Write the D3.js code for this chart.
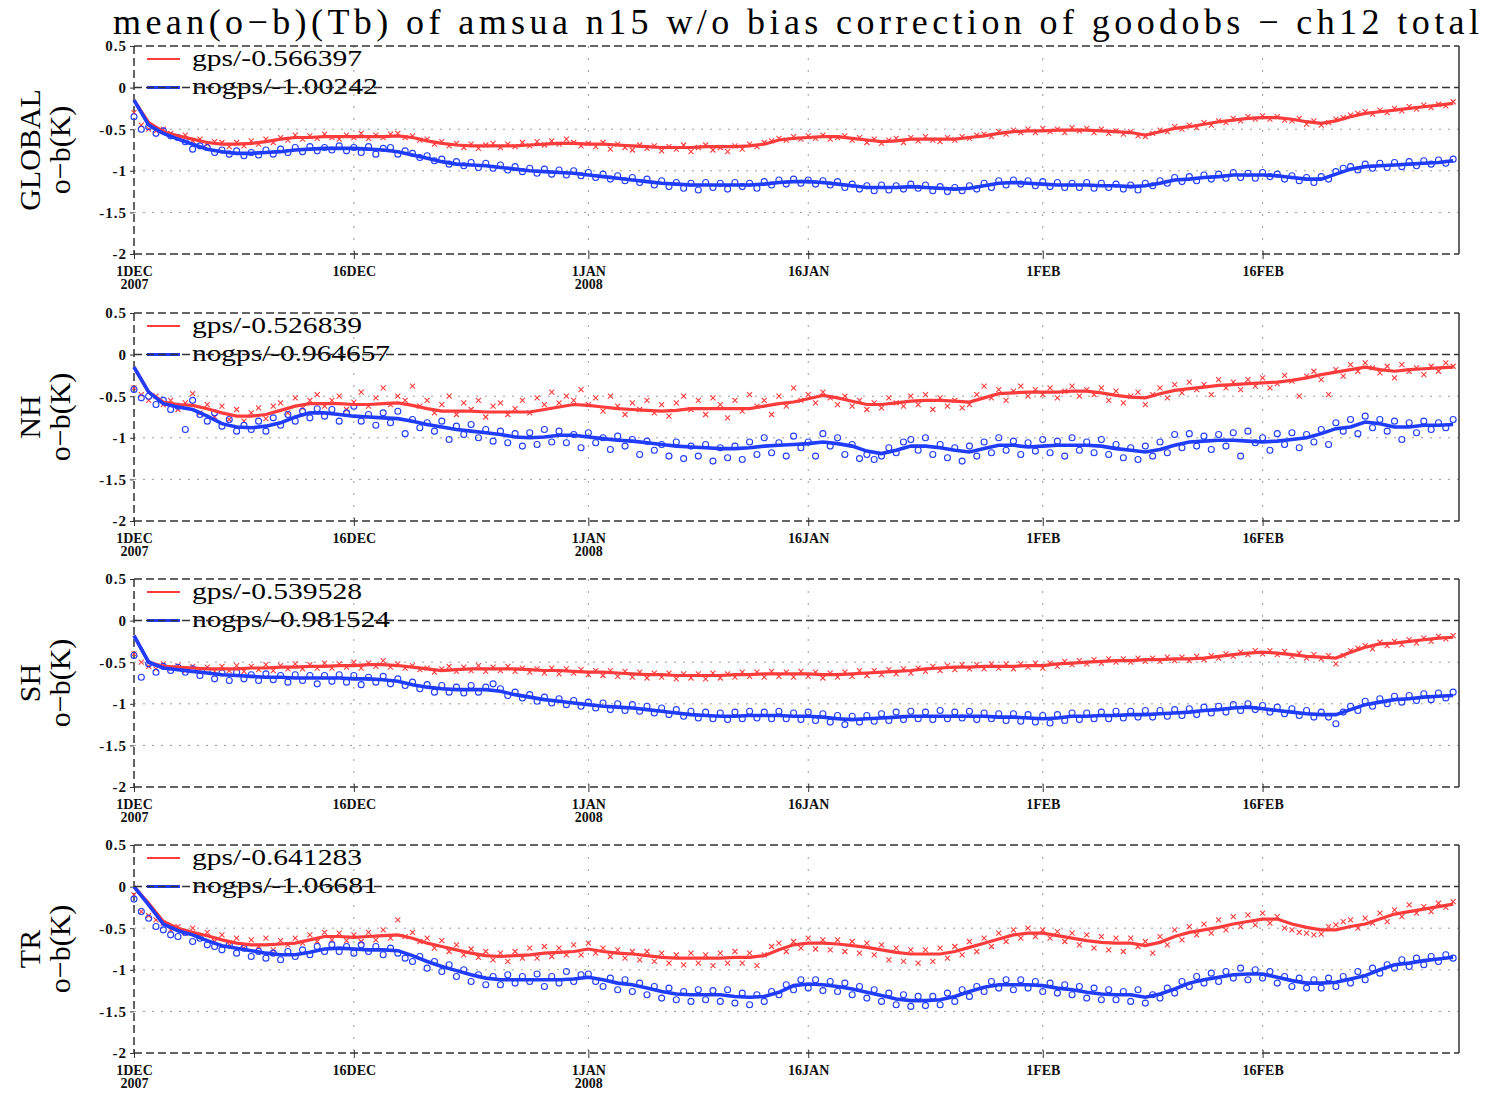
<!DOCTYPE html>
<html>
<head>
<meta charset="utf-8">
<title>mean(o-b)(Tb) of amsua n15 - ch12</title>
<script src="https://cdn.jsdelivr.net/npm/d3@7/dist/d3.min.js"></script>
<style>
  body { margin: 0; background: #ffffff; }
  svg { display: block; }
</style>
</head>
<body>
<script>

// ---- data ----
const regions = ["GLOBAL", "NH", "SH", "TR"];
const gpsMeans = ["-0.566397", "-0.526839", "-0.539528", "-0.641283"];
const nogpsMeans = ["-1.00242", "-0.964657", "-0.981524", "-1.06681"];

const yTicks = [0.5, 0, -0.5, -1, -1.5, -2];
const xTickDays = [0, 15, 31, 46, 62, 77];
const xTickLabels = ["1DEC", "16DEC", "1JAN", "16JAN", "1FEB", "16FEB"];
const xTickYears = ["2007", "", "2008", "", "", ""];

// running mean lines, one value per day from 1 Dec 2007
const gpsLineGlobal = [-0.15,-0.42,-0.53,-0.58,-0.62,-0.66,-0.68,-0.68,-0.67,-0.65,-0.62,-0.60,-0.60,-0.59,-0.59,-0.59,-0.59,-0.59,-0.58,-0.60,-0.64,-0.67,-0.69,-0.70,-0.70,-0.70,-0.70,-0.69,-0.68,-0.67,-0.67,-0.68,-0.68,-0.69,-0.70,-0.71,-0.72,-0.72,-0.72,-0.71,-0.71,-0.71,-0.70,-0.68,-0.63,-0.61,-0.60,-0.59,-0.59,-0.61,-0.63,-0.65,-0.64,-0.62,-0.62,-0.62,-0.62,-0.60,-0.58,-0.55,-0.53,-0.52,-0.52,-0.51,-0.51,-0.51,-0.52,-0.53,-0.54,-0.57,-0.53,-0.49,-0.47,-0.44,-0.41,-0.39,-0.37,-0.36,-0.36,-0.38,-0.41,-0.43,-0.40,-0.35,-0.31,-0.29,-0.27,-0.25,-0.23,-0.21,-0.19];
const nogpsLineGlobal = [-0.15,-0.45,-0.55,-0.62,-0.68,-0.74,-0.77,-0.79,-0.79,-0.78,-0.77,-0.75,-0.74,-0.73,-0.73,-0.73,-0.74,-0.75,-0.77,-0.81,-0.85,-0.89,-0.92,-0.93,-0.94,-0.96,-0.98,-1.00,-1.01,-1.02,-1.03,-1.05,-1.07,-1.09,-1.11,-1.13,-1.15,-1.16,-1.17,-1.17,-1.17,-1.17,-1.17,-1.16,-1.14,-1.13,-1.13,-1.14,-1.16,-1.18,-1.20,-1.20,-1.20,-1.19,-1.20,-1.21,-1.22,-1.21,-1.18,-1.15,-1.14,-1.15,-1.16,-1.17,-1.17,-1.17,-1.18,-1.18,-1.19,-1.18,-1.15,-1.11,-1.10,-1.08,-1.07,-1.05,-1.05,-1.05,-1.06,-1.08,-1.10,-1.10,-1.04,-0.98,-0.95,-0.94,-0.93,-0.92,-0.91,-0.90,-0.88];
const gpsLineNH = [-0.15,-0.45,-0.57,-0.60,-0.61,-0.65,-0.70,-0.74,-0.74,-0.72,-0.67,-0.62,-0.59,-0.59,-0.59,-0.60,-0.60,-0.59,-0.58,-0.61,-0.65,-0.68,-0.68,-0.68,-0.69,-0.69,-0.69,-0.69,-0.66,-0.63,-0.60,-0.61,-0.63,-0.65,-0.66,-0.67,-0.68,-0.67,-0.65,-0.65,-0.65,-0.65,-0.65,-0.62,-0.59,-0.57,-0.53,-0.49,-0.52,-0.56,-0.60,-0.60,-0.58,-0.56,-0.55,-0.55,-0.56,-0.57,-0.52,-0.47,-0.46,-0.45,-0.45,-0.45,-0.44,-0.44,-0.46,-0.49,-0.51,-0.52,-0.47,-0.43,-0.41,-0.39,-0.37,-0.36,-0.35,-0.34,-0.33,-0.31,-0.28,-0.24,-0.21,-0.18,-0.15,-0.18,-0.20,-0.18,-0.17,-0.16,-0.15];
const nogpsLineNH = [-0.15,-0.45,-0.59,-0.63,-0.66,-0.74,-0.83,-0.87,-0.88,-0.86,-0.82,-0.75,-0.70,-0.70,-0.72,-0.74,-0.75,-0.76,-0.77,-0.80,-0.84,-0.87,-0.90,-0.92,-0.94,-0.96,-0.99,-1.00,-0.99,-0.97,-0.97,-0.99,-1.01,-1.03,-1.04,-1.06,-1.08,-1.10,-1.11,-1.12,-1.13,-1.13,-1.12,-1.10,-1.09,-1.08,-1.07,-1.05,-1.07,-1.10,-1.16,-1.19,-1.15,-1.10,-1.10,-1.12,-1.15,-1.17,-1.13,-1.09,-1.09,-1.11,-1.10,-1.09,-1.09,-1.09,-1.10,-1.13,-1.15,-1.17,-1.14,-1.09,-1.05,-1.04,-1.03,-1.03,-1.04,-1.05,-1.04,-1.02,-1.00,-0.95,-0.89,-0.87,-0.81,-0.83,-0.87,-0.87,-0.85,-0.85,-0.84];
const gpsLineSH = [-0.18,-0.50,-0.55,-0.56,-0.57,-0.58,-0.58,-0.58,-0.57,-0.57,-0.56,-0.56,-0.55,-0.55,-0.54,-0.54,-0.53,-0.53,-0.54,-0.56,-0.58,-0.60,-0.59,-0.58,-0.58,-0.58,-0.58,-0.59,-0.60,-0.60,-0.61,-0.62,-0.62,-0.63,-0.64,-0.65,-0.65,-0.66,-0.66,-0.66,-0.66,-0.65,-0.65,-0.64,-0.64,-0.64,-0.64,-0.65,-0.65,-0.64,-0.63,-0.62,-0.61,-0.60,-0.58,-0.57,-0.56,-0.56,-0.55,-0.55,-0.55,-0.54,-0.54,-0.52,-0.51,-0.50,-0.49,-0.48,-0.48,-0.47,-0.47,-0.46,-0.46,-0.45,-0.43,-0.41,-0.39,-0.38,-0.39,-0.41,-0.43,-0.44,-0.45,-0.38,-0.32,-0.28,-0.27,-0.25,-0.23,-0.21,-0.20];
const nogpsLineSH = [-0.18,-0.50,-0.57,-0.59,-0.61,-0.63,-0.65,-0.66,-0.67,-0.68,-0.68,-0.69,-0.69,-0.69,-0.69,-0.70,-0.70,-0.71,-0.73,-0.77,-0.80,-0.82,-0.83,-0.83,-0.83,-0.85,-0.89,-0.92,-0.95,-0.97,-0.99,-1.01,-1.03,-1.04,-1.05,-1.07,-1.09,-1.11,-1.13,-1.14,-1.15,-1.15,-1.14,-1.14,-1.14,-1.15,-1.15,-1.16,-1.18,-1.19,-1.18,-1.17,-1.16,-1.15,-1.15,-1.15,-1.15,-1.15,-1.15,-1.16,-1.16,-1.17,-1.18,-1.17,-1.15,-1.15,-1.14,-1.14,-1.13,-1.13,-1.12,-1.11,-1.10,-1.08,-1.07,-1.05,-1.04,-1.06,-1.08,-1.10,-1.12,-1.13,-1.13,-1.07,-1.01,-0.98,-0.95,-0.94,-0.92,-0.91,-0.90];
const gpsLineTR = [0.00,-0.20,-0.42,-0.50,-0.55,-0.59,-0.64,-0.68,-0.70,-0.70,-0.69,-0.68,-0.64,-0.60,-0.60,-0.61,-0.60,-0.59,-0.58,-0.62,-0.68,-0.72,-0.76,-0.80,-0.83,-0.84,-0.83,-0.82,-0.80,-0.79,-0.78,-0.75,-0.78,-0.80,-0.81,-0.83,-0.85,-0.86,-0.86,-0.86,-0.86,-0.85,-0.85,-0.83,-0.76,-0.70,-0.68,-0.68,-0.69,-0.71,-0.73,-0.76,-0.79,-0.81,-0.81,-0.81,-0.78,-0.73,-0.68,-0.63,-0.58,-0.56,-0.56,-0.59,-0.62,-0.65,-0.67,-0.68,-0.68,-0.71,-0.67,-0.60,-0.55,-0.52,-0.49,-0.45,-0.42,-0.39,-0.39,-0.45,-0.49,-0.52,-0.52,-0.48,-0.45,-0.39,-0.33,-0.30,-0.27,-0.24,-0.21];
const nogpsLineTR = [0.00,-0.22,-0.45,-0.53,-0.58,-0.65,-0.71,-0.74,-0.77,-0.80,-0.82,-0.82,-0.79,-0.75,-0.74,-0.75,-0.76,-0.76,-0.77,-0.83,-0.90,-0.96,-1.01,-1.06,-1.10,-1.12,-1.12,-1.12,-1.12,-1.12,-1.11,-1.09,-1.12,-1.16,-1.18,-1.22,-1.26,-1.29,-1.30,-1.30,-1.30,-1.32,-1.33,-1.32,-1.27,-1.19,-1.17,-1.18,-1.20,-1.23,-1.27,-1.31,-1.35,-1.37,-1.37,-1.36,-1.32,-1.26,-1.21,-1.18,-1.18,-1.18,-1.19,-1.22,-1.24,-1.27,-1.29,-1.30,-1.30,-1.33,-1.29,-1.23,-1.16,-1.12,-1.09,-1.06,-1.05,-1.05,-1.09,-1.13,-1.16,-1.16,-1.15,-1.11,-1.07,-1.00,-0.94,-0.92,-0.89,-0.87,-0.85];

// single analysis values, one every half day
const gpsDotsGlobal = [-0.30,-0.45,-0.50,-0.52,-0.50,-0.55,-0.60,-0.57,-0.64,-0.62,
  -0.68,-0.65,-0.66,-0.71,-0.66,-0.70,-0.64,-0.68,-0.62,-0.66,
  -0.60,-0.63,-0.57,-0.62,-0.58,-0.61,-0.56,-0.60,-0.62,-0.57,
  -0.60,-0.55,-0.61,-0.57,-0.60,-0.56,-0.55,-0.60,-0.58,-0.63,
  -0.62,-0.68,-0.65,-0.70,-0.67,-0.72,-0.68,-0.73,-0.69,-0.67,
  -0.72,-0.68,-0.71,-0.66,-0.70,-0.65,-0.69,-0.64,-0.68,-0.62,
  -0.66,-0.70,-0.67,-0.71,-0.66,-0.74,-0.68,-0.72,-0.75,-0.69,
  -0.73,-0.70,-0.76,-0.71,-0.74,-0.69,-0.77,-0.72,-0.69,-0.75,
  -0.72,-0.77,-0.70,-0.74,-0.68,-0.71,-0.66,-0.64,-0.61,-0.63,
  -0.59,-0.62,-0.58,-0.61,-0.57,-0.62,-0.60,-0.58,-0.63,-0.60,
  -0.66,-0.62,-0.67,-0.63,-0.61,-0.66,-0.60,-0.64,-0.59,-0.63,
  -0.65,-0.60,-0.63,-0.59,-0.61,-0.57,-0.56,-0.59,-0.53,-0.56,
  -0.51,-0.54,-0.50,-0.54,-0.49,-0.53,-0.50,-0.54,-0.48,-0.52,
  -0.49,-0.54,-0.50,-0.55,-0.52,-0.56,-0.53,-0.58,-0.59,-0.55,
  -0.51,-0.53,-0.47,-0.50,-0.45,-0.48,-0.42,-0.45,-0.40,-0.42,
  -0.37,-0.40,-0.35,-0.38,-0.34,-0.38,-0.35,-0.39,-0.40,-0.37,
  -0.44,-0.40,-0.45,-0.42,-0.38,-0.36,-0.33,-0.31,-0.29,-0.32,
  -0.27,-0.30,-0.25,-0.28,-0.23,-0.26,-0.21,-0.24,-0.20,-0.22,
  -0.17];
const nogpsDotsGlobal = [-0.35,-0.50,-0.47,-0.55,-0.52,-0.58,-0.60,-0.65,-0.74,-0.70,
  -0.72,-0.78,-0.75,-0.80,-0.76,-0.82,-0.78,-0.81,-0.75,-0.80,
  -0.74,-0.78,-0.72,-0.77,-0.71,-0.76,-0.72,-0.75,-0.70,-0.76,
  -0.72,-0.78,-0.71,-0.80,-0.73,-0.72,-0.80,-0.76,-0.79,-0.84,
  -0.82,-0.88,-0.86,-0.92,-0.89,-0.94,-0.90,-0.96,-0.91,-0.97,
  -0.93,-0.99,-0.95,-1.01,-0.97,-1.03,-0.98,-1.04,-0.99,-1.05,
  -1.00,-1.06,-1.02,-1.08,-1.04,-1.10,-1.06,-1.12,-1.08,-1.14,
  -1.10,-1.17,-1.12,-1.19,-1.14,-1.21,-1.15,-1.23,-1.14,-1.20,
  -1.15,-1.22,-1.14,-1.19,-1.15,-1.21,-1.13,-1.17,-1.11,-1.16,
  -1.10,-1.15,-1.11,-1.16,-1.12,-1.17,-1.13,-1.20,-1.16,-1.22,
  -1.18,-1.24,-1.17,-1.23,-1.18,-1.22,-1.16,-1.21,-1.17,-1.24,
  -1.19,-1.25,-1.20,-1.24,-1.18,-1.22,-1.15,-1.20,-1.12,-1.17,
  -1.11,-1.16,-1.12,-1.18,-1.13,-1.19,-1.14,-1.20,-1.15,-1.20,
  -1.14,-1.21,-1.15,-1.20,-1.16,-1.22,-1.17,-1.23,-1.15,-1.18,
  -1.12,-1.15,-1.08,-1.13,-1.07,-1.12,-1.05,-1.10,-1.04,-1.09,
  -1.02,-1.08,-1.03,-1.09,-1.02,-1.07,-1.04,-1.10,-1.06,-1.12,
  -1.08,-1.14,-1.07,-1.10,-1.01,-0.97,-0.95,-0.99,-0.92,-0.97,
  -0.91,-0.96,-0.90,-0.95,-0.89,-0.94,-0.88,-0.92,-0.87,-0.91,
  -0.86];
const gpsDotsNH = [-0.40,-0.48,-0.55,-0.50,-0.60,-0.55,-0.66,-0.58,-0.47,-0.70,
  -0.60,-0.75,-0.62,-0.78,-0.66,-0.80,-0.70,-0.64,-0.77,-0.62,
  -0.58,-0.70,-0.52,-0.64,-0.55,-0.48,-0.62,-0.55,-0.50,-0.66,
  -0.57,-0.45,-0.62,-0.52,-0.40,-0.60,-0.50,-0.55,-0.38,-0.62,
  -0.55,-0.70,-0.60,-0.50,-0.72,-0.58,-0.66,-0.55,-0.75,-0.62,
  -0.58,-0.72,-0.65,-0.55,-0.70,-0.52,-0.60,-0.45,-0.58,-0.50,
  -0.55,-0.42,-0.60,-0.52,-0.68,-0.50,-0.62,-0.72,-0.58,-0.66,
  -0.55,-0.70,-0.60,-0.74,-0.58,-0.50,-0.66,-0.55,-0.72,-0.52,
  -0.60,-0.76,-0.55,-0.68,-0.48,-0.62,-0.55,-0.72,-0.50,-0.62,
  -0.40,-0.55,-0.48,-0.58,-0.45,-0.52,-0.60,-0.50,-0.62,-0.55,
  -0.66,-0.58,-0.64,-0.52,-0.58,-0.62,-0.50,-0.60,-0.48,-0.66,
  -0.52,-0.62,-0.55,-0.64,-0.60,-0.48,-0.38,-0.52,-0.42,-0.55,
  -0.44,-0.38,-0.50,-0.42,-0.48,-0.40,-0.52,-0.44,-0.38,-0.50,
  -0.42,-0.48,-0.40,-0.55,-0.44,-0.58,-0.50,-0.45,-0.60,-0.48,
  -0.40,-0.52,-0.36,-0.46,-0.33,-0.42,-0.36,-0.48,-0.30,-0.40,
  -0.33,-0.42,-0.30,-0.38,-0.28,-0.40,-0.35,-0.25,-0.32,-0.50,
  -0.26,-0.20,-0.30,-0.48,-0.18,-0.26,-0.12,-0.20,-0.10,-0.16,
  -0.22,-0.14,-0.28,-0.12,-0.20,-0.16,-0.24,-0.14,-0.20,-0.10,
  -0.14];
const nogpsDotsNH = [-0.42,-0.52,-0.50,-0.60,-0.55,-0.66,-0.62,-0.90,-0.55,-0.72,
  -0.80,-0.70,-0.86,-0.78,-0.92,-0.85,-0.90,-0.80,-0.92,-0.76,
  -0.85,-0.72,-0.80,-0.68,-0.76,-0.65,-0.74,-0.66,-0.80,-0.70,
  -0.62,-0.80,-0.72,-0.85,-0.70,-0.82,-0.68,-0.95,-0.78,-0.88,
  -0.82,-0.92,-0.80,-1.02,-0.86,-0.96,-0.84,-1.00,-0.90,-1.04,
  -0.92,-1.06,-0.95,-1.10,-0.94,-1.08,-0.90,-1.05,-0.92,-1.06,
  -0.96,-1.12,-0.94,-1.06,-1.00,-1.14,-0.98,-1.10,-1.02,-1.20,
  -1.04,-1.15,-1.08,-1.22,-1.05,-1.25,-1.10,-1.22,-1.08,-1.28,
  -1.12,-1.24,-1.10,-1.26,-1.05,-1.20,-1.00,-1.18,-1.06,-1.22,
  -0.98,-1.12,-1.05,-1.22,-0.95,-1.10,-1.00,-1.20,-1.08,-1.25,
  -1.20,-1.26,-1.22,-1.12,-1.18,-1.05,-1.02,-1.15,-1.00,-1.20,
  -1.08,-1.24,-1.12,-1.28,-1.10,-1.22,-1.05,-1.18,-1.00,-1.15,
  -1.04,-1.20,-1.06,-1.16,-1.02,-1.18,-1.04,-1.22,-1.00,-1.15,
  -1.05,-1.18,-1.02,-1.20,-1.08,-1.24,-1.12,-1.26,-1.10,-1.22,
  -1.05,-1.18,-0.96,-1.12,-0.95,-1.10,-0.98,-1.14,-0.96,-1.10,
  -0.94,-1.22,-0.92,-1.06,-1.00,-1.15,-0.95,-1.08,-0.94,-1.12,
  -0.96,-1.05,-0.90,-1.08,-0.82,-0.92,-0.78,-0.95,-0.74,-0.88,
  -0.78,-0.92,-0.80,-1.02,-0.82,-0.94,-0.80,-0.90,-0.82,-0.88,
  -0.78];
const gpsDotsSH = [-0.40,-0.50,-0.55,-0.58,-0.52,-0.57,-0.54,-0.60,-0.55,-0.59,
  -0.56,-0.61,-0.55,-0.60,-0.54,-0.61,-0.55,-0.59,-0.53,-0.60,
  -0.54,-0.58,-0.52,-0.58,-0.53,-0.57,-0.51,-0.57,-0.52,-0.56,
  -0.50,-0.57,-0.51,-0.55,-0.48,-0.56,-0.52,-0.57,-0.54,-0.59,
  -0.57,-0.62,-0.58,-0.55,-0.61,-0.56,-0.60,-0.54,-0.61,-0.56,
  -0.60,-0.55,-0.61,-0.57,-0.62,-0.58,-0.63,-0.57,-0.64,-0.58,
  -0.63,-0.59,-0.65,-0.60,-0.66,-0.60,-0.67,-0.61,-0.68,-0.62,
  -0.69,-0.63,-0.68,-0.63,-0.70,-0.64,-0.69,-0.64,-0.70,-0.63,
  -0.69,-0.64,-0.68,-0.62,-0.67,-0.62,-0.68,-0.61,-0.67,-0.62,
  -0.68,-0.61,-0.67,-0.62,-0.69,-0.63,-0.68,-0.62,-0.67,-0.60,
  -0.66,-0.60,-0.65,-0.59,-0.64,-0.58,-0.63,-0.57,-0.61,-0.55,
  -0.60,-0.54,-0.59,-0.53,-0.58,-0.53,-0.58,-0.52,-0.57,-0.52,
  -0.58,-0.52,-0.56,-0.51,-0.57,-0.51,-0.55,-0.49,-0.53,-0.48,
  -0.52,-0.47,-0.51,-0.46,-0.50,-0.46,-0.50,-0.45,-0.49,-0.45,
  -0.49,-0.44,-0.48,-0.44,-0.48,-0.43,-0.47,-0.42,-0.45,-0.40,
  -0.43,-0.38,-0.41,-0.36,-0.40,-0.36,-0.41,-0.37,-0.43,-0.39,
  -0.45,-0.41,-0.46,-0.42,-0.52,-0.42,-0.36,-0.33,-0.30,-0.34,
  -0.26,-0.30,-0.25,-0.29,-0.23,-0.27,-0.21,-0.25,-0.19,-0.22,
  -0.18];
const nogpsDotsSH = [-0.42,-0.68,-0.52,-0.62,-0.55,-0.60,-0.56,-0.62,-0.58,-0.66,
  -0.60,-0.70,-0.63,-0.72,-0.62,-0.70,-0.65,-0.72,-0.64,-0.71,
  -0.66,-0.74,-0.65,-0.72,-0.66,-0.76,-0.66,-0.73,-0.65,-0.74,
  -0.66,-0.77,-0.68,-0.74,-0.67,-0.76,-0.70,-0.78,-0.74,-0.82,
  -0.77,-0.86,-0.78,-0.86,-0.80,-0.87,-0.78,-0.86,-0.80,-0.76,
  -0.82,-0.90,-0.86,-0.93,-0.89,-0.97,-0.92,-0.99,-0.94,-1.01,
  -0.96,-1.03,-0.98,-1.05,-0.99,-1.07,-1.00,-1.08,-1.01,-1.09,
  -1.03,-1.11,-1.05,-1.13,-1.07,-1.15,-1.09,-1.17,-1.10,-1.18,
  -1.11,-1.19,-1.10,-1.18,-1.09,-1.17,-1.10,-1.18,-1.09,-1.18,
  -1.11,-1.19,-1.10,-1.20,-1.12,-1.22,-1.14,-1.25,-1.15,-1.22,
  -1.14,-1.21,-1.12,-1.20,-1.10,-1.19,-1.09,-1.18,-1.10,-1.19,
  -1.08,-1.18,-1.10,-1.17,-1.09,-1.19,-1.11,-1.18,-1.12,-1.20,
  -1.12,-1.21,-1.13,-1.22,-1.14,-1.23,-1.13,-1.20,-1.11,-1.19,
  -1.11,-1.18,-1.10,-1.18,-1.09,-1.17,-1.09,-1.16,-1.08,-1.16,
  -1.08,-1.15,-1.07,-1.14,-1.06,-1.13,-1.04,-1.11,-1.03,-1.10,
  -1.01,-1.08,-1.00,-1.07,-1.02,-1.10,-1.04,-1.12,-1.06,-1.14,
  -1.08,-1.16,-1.10,-1.16,-1.24,-1.10,-1.03,-1.08,-0.97,-1.03,
  -0.94,-1.00,-0.91,-0.98,-0.90,-0.96,-0.88,-0.95,-0.87,-0.93,
  -0.86];
const gpsDotsTR = [-0.10,-0.30,-0.35,-0.40,-0.44,-0.52,-0.48,-0.56,-0.50,-0.60,
  -0.55,-0.66,-0.58,-0.70,-0.62,-0.74,-0.64,-0.72,-0.62,-0.76,
  -0.65,-0.70,-0.62,-0.68,-0.58,-0.66,-0.55,-0.64,-0.56,-0.65,
  -0.58,-0.66,-0.55,-0.64,-0.52,-0.62,-0.40,-0.60,-0.55,-0.66,
  -0.62,-0.74,-0.65,-0.78,-0.70,-0.82,-0.75,-0.85,-0.78,-0.88,
  -0.80,-0.90,-0.78,-0.86,-0.74,-0.86,-0.72,-0.84,-0.74,-0.82,
  -0.70,-0.82,-0.68,-0.80,-0.74,-0.84,-0.76,-0.86,-0.78,-0.88,
  -0.78,-0.90,-0.80,-0.92,-0.82,-0.94,-0.80,-0.92,-0.82,-0.95,
  -0.80,-0.92,-0.78,-0.92,-0.80,-0.95,-0.82,-0.72,-0.68,-0.78,
  -0.66,-0.74,-0.62,-0.75,-0.64,-0.76,-0.64,-0.78,-0.66,-0.80,
  -0.68,-0.82,-0.70,-0.88,-0.74,-0.90,-0.76,-0.92,-0.76,-0.90,
  -0.74,-0.86,-0.72,-0.82,-0.66,-0.78,-0.62,-0.72,-0.56,-0.66,
  -0.52,-0.62,-0.50,-0.60,-0.52,-0.62,-0.54,-0.66,-0.56,-0.70,
  -0.58,-0.74,-0.60,-0.76,-0.62,-0.78,-0.62,-0.72,-0.66,-0.80,
  -0.60,-0.70,-0.52,-0.64,-0.48,-0.58,-0.45,-0.56,-0.40,-0.52,
  -0.36,-0.48,-0.34,-0.46,-0.32,-0.44,-0.36,-0.50,-0.52,-0.55,
  -0.56,-0.58,-0.57,-0.48,-0.46,-0.42,-0.40,-0.50,-0.38,-0.44,
  -0.32,-0.42,-0.28,-0.36,-0.22,-0.32,-0.24,-0.30,-0.20,-0.25,
  -0.18];
const nogpsDotsTR = [-0.15,-0.30,-0.38,-0.48,-0.52,-0.58,-0.60,-0.55,-0.66,-0.62,
  -0.70,-0.72,-0.76,-0.70,-0.80,-0.74,-0.84,-0.78,-0.86,-0.80,
  -0.88,-0.78,-0.84,-0.76,-0.82,-0.72,-0.78,-0.70,-0.78,-0.72,
  -0.80,-0.70,-0.78,-0.72,-0.82,-0.74,-0.80,-0.86,-0.90,-0.84,
  -0.98,-0.90,-1.02,-0.94,-1.08,-1.00,-1.14,-1.06,-1.18,-1.08,
  -1.18,-1.06,-1.16,-1.08,-1.14,-1.05,-1.20,-1.08,-1.16,-1.02,
  -1.14,-1.06,-1.05,-1.14,-1.20,-1.10,-1.24,-1.12,-1.26,-1.16,
  -1.30,-1.20,-1.34,-1.22,-1.36,-1.26,-1.38,-1.24,-1.36,-1.25,
  -1.38,-1.24,-1.40,-1.28,-1.42,-1.30,-1.38,-1.26,-1.30,-1.18,
  -1.24,-1.12,-1.22,-1.12,-1.25,-1.14,-1.26,-1.16,-1.30,-1.20,
  -1.34,-1.24,-1.38,-1.28,-1.42,-1.30,-1.44,-1.32,-1.43,-1.32,
  -1.42,-1.28,-1.38,-1.24,-1.32,-1.20,-1.26,-1.14,-1.22,-1.12,
  -1.24,-1.12,-1.22,-1.14,-1.26,-1.16,-1.28,-1.18,-1.30,-1.20,
  -1.34,-1.22,-1.36,-1.24,-1.36,-1.26,-1.38,-1.24,-1.40,-1.30,
  -1.34,-1.22,-1.28,-1.14,-1.20,-1.08,-1.16,-1.04,-1.14,-1.02,
  -1.10,-0.98,-1.12,-1.00,-1.10,-1.02,-1.16,-1.08,-1.20,-1.10,
  -1.22,-1.12,-1.22,-1.10,-1.20,-1.08,-1.16,-1.02,-1.12,-0.98,
  -1.04,-0.94,-0.98,-0.88,-0.96,-0.86,-0.94,-0.84,-0.90,-0.82,
  -0.86];

// table used for drawing
const panels = [
  { name: regions[0], gpsMean: gpsMeans[0], nogpsMean: nogpsMeans[0], gpsLine: gpsLineGlobal, nogpsLine: nogpsLineGlobal, gpsDots: gpsDotsGlobal, nogpsDots: nogpsDotsGlobal },
  { name: regions[1], gpsMean: gpsMeans[1], nogpsMean: nogpsMeans[1], gpsLine: gpsLineNH, nogpsLine: nogpsLineNH, gpsDots: gpsDotsNH, nogpsDots: nogpsDotsNH },
  { name: regions[2], gpsMean: gpsMeans[2], nogpsMean: nogpsMeans[2], gpsLine: gpsLineSH, nogpsLine: nogpsLineSH, gpsDots: gpsDotsSH, nogpsDots: nogpsDotsSH },
  { name: regions[3], gpsMean: gpsMeans[3], nogpsMean: nogpsMeans[3], gpsLine: gpsLineTR, nogpsLine: nogpsLineTR, gpsDots: gpsDotsTR, nogpsDots: nogpsDotsTR }
];

// ---- layout ----
const w = 1488;
const h = 1093;
const left = 134;
const right = 1459;
const panelTops = [46, 313, 579, 845];
const panelH = 208;

const red = "#ff3b3b";
const blue = "#1f3cff";
const serif = "'Liberation Serif', 'DejaVu Serif', serif";

const svg = d3.select("body")
  .append("svg")
  .attr("width", w)
  .attr("height", h);

svg.append("rect").attr("width", w).attr("height", h).attr("fill", "#fff");

// title
svg.append("text")
  .attr("x", 113)
  .attr("y", 34)
  .attr("font-family", serif)
  .attr("font-size", 36)
  .attr("textLength", 1366)
  .attr("lengthAdjust", "spacing")
  .text("mean(o\u2212b)(Tb) of amsua n15 w/o bias correction of goodobs \u2212 ch12  total");

const xScale = d3.scaleLinear()
  .domain([0, 90.4])
  .range([left, right]);

panels.forEach(function (p, k) {
  const top = panelTops[k];
  const bottom = top + panelH;

  const yScale = d3.scaleLinear()
    .domain([-2, 0.5])
    .range([bottom, top]);

  const g = svg.append("g");

  // dotted grid
  g.selectAll("line.hgrid")
    .data([-0.5, -1, -1.5])
    .enter()
    .append("line")
    .attr("x1", left).attr("x2", right)
    .attr("y1", function (d) { return yScale(d); })
    .attr("y2", function (d) { return yScale(d); })
    .attr("stroke", "#9a9a9a")
    .attr("stroke-width", 1)
    .attr("stroke-dasharray", "2,7");

  g.selectAll("line.vgrid")
    .data(xTickDays.slice(1))
    .enter()
    .append("line")
    .attr("x1", function (d) { return xScale(d); })
    .attr("x2", function (d) { return xScale(d); })
    .attr("y1", top).attr("y2", bottom)
    .attr("stroke", "#9a9a9a")
    .attr("stroke-width", 1)
    .attr("stroke-dasharray", "2,10");

  // frame: dashed top, bottom, left; solid right
  const frame = [
    [left, top, right, top, "8,4"],
    [left, bottom, right, bottom, "8,4"],
    [left, top, left, bottom, "8,4"],
    [right, top, right, bottom, null]
  ];
  g.selectAll("line.frame")
    .data(frame)
    .enter()
    .append("line")
    .attr("x1", function (d) { return d[0]; })
    .attr("y1", function (d) { return d[1]; })
    .attr("x2", function (d) { return d[2]; })
    .attr("y2", function (d) { return d[3]; })
    .attr("stroke", "#333")
    .attr("stroke-width", 1.5)
    .attr("stroke-dasharray", function (d) { return d[4]; });

  // y axis
  const yAxis = d3.axisLeft(yScale)
    .tickValues(yTicks)
    .tickSize(4)
    .tickPadding(3)
    .tickFormat(function (d) { return String(d); });
  const ya = g.append("g")
    .attr("transform", "translate(" + left + ",0)")
    .call(yAxis);
  ya.select(".domain").remove();
  ya.selectAll("line").attr("stroke", "#333");
  ya.selectAll("text")
    .attr("font-family", serif)
    .attr("font-weight", "bold")
    .attr("font-size", 15)
    .attr("letter-spacing", 1)
    .attr("fill", "#111");

  // x axis
  const xAxis = d3.axisBottom(xScale)
    .tickValues(xTickDays)
    .tickSize(5)
    .tickPadding(7)
    .tickFormat(function (d, i) { return xTickLabels[i]; });
  const xa = g.append("g")
    .attr("transform", "translate(0," + bottom + ")")
    .call(xAxis);
  xa.select(".domain").remove();
  xa.selectAll("line").attr("stroke", "#333").attr("y1", -3);
  xa.selectAll(".tick").append("text")
    .attr("fill", "#111")
    .attr("y", 25)
    .attr("dy", "0.71em")
    .text(function (d, i) { return xTickYears[i]; });
  xa.selectAll("text")
    .attr("font-family", serif)
    .attr("font-weight", "bold")
    .attr("font-size", 14)
    .attr("fill", "#111");

  // y title (two rotated lines)
  const cy = (top + bottom) / 2;
  svg.append("text")
    .attr("transform", "translate(40," + cy + ") rotate(-90)")
    .attr("text-anchor", "middle")
    .attr("font-family", serif)
    .attr("font-size", 30)
    .text(p.name);
  svg.append("text")
    .attr("transform", "translate(70," + cy + ") rotate(-90)")
    .attr("text-anchor", "middle")
    .attr("font-family", serif)
    .attr("font-size", 30)
    .text("o\u2212b(K)");

  // scatter: red crosses (gps) and blue circles (nogps)
  g.selectAll("path.cross")
    .data(p.gpsDots)
    .enter()
    .append("path")
    .attr("d", function (d, i) {
      const x = xScale(i / 2);
      const y = yScale(d);
      return "M" + (x - 2.5) + "," + (y - 2.5) + "L" + (x + 2.5) + "," + (y + 2.5) +
        "M" + (x - 2.5) + "," + (y + 2.5) + "L" + (x + 2.5) + "," + (y - 2.5);
    })
    .attr("stroke", red)
    .attr("stroke-width", 1.1)
    .attr("fill", "none");

  g.selectAll("circle.dot")
    .data(p.nogpsDots)
    .enter()
    .append("circle")
    .attr("cx", function (d, i) { return xScale(i / 2); })
    .attr("cy", function (d) { return yScale(d); })
    .attr("r", 3)
    .attr("stroke", blue)
    .attr("stroke-width", 1.1)
    .attr("fill", "none");

  // running mean lines
  const line = d3.line()
    .x(function (d, i) { return xScale(i); })
    .y(function (d) { return yScale(d); });

  g.append("path")
    .datum(p.gpsLine)
    .attr("d", line)
    .attr("fill", "none")
    .attr("stroke", red)
    .attr("stroke-width", 3.2);

  g.append("path")
    .datum(p.nogpsLine)
    .attr("d", line)
    .attr("fill", "none")
    .attr("stroke", blue)
    .attr("stroke-width", 3.6);

  // legend
  g.append("line")
    .attr("x1", 147).attr("x2", 180)
    .attr("y1", top + 13).attr("y2", top + 13)
    .attr("stroke", red).attr("stroke-width", 2);
  g.append("text")
    .attr("x", 192).attr("y", top + 20)
    .attr("font-family", serif)
    .attr("font-size", 24)
    .attr("textLength", 170)
    .attr("lengthAdjust", "spacingAndGlyphs")
    .text("gps/" + p.gpsMean);

  g.append("line")
    .attr("x1", 147).attr("x2", 180)
    .attr("y1", yScale(0)).attr("y2", yScale(0))
    .attr("stroke", blue).attr("stroke-width", 3);
  g.append("text")
    .attr("x", 192).attr("y", top + 48)
    .attr("font-family", serif)
    .attr("font-size", 24)
    .attr("textLength", p.nogpsMean.length > 8 ? 198 : 186)
    .attr("lengthAdjust", "spacingAndGlyphs")
    .text("nogps/" + p.nogpsMean);

  // zero line, drawn on top of the legend like the original
  g.append("line")
    .attr("x1", left).attr("x2", right)
    .attr("y1", yScale(0)).attr("y2", yScale(0))
    .attr("stroke", "#333")
    .attr("stroke-width", 1.5)
    .attr("stroke-dasharray", "8,4");
});

</script>
</body>
</html>
